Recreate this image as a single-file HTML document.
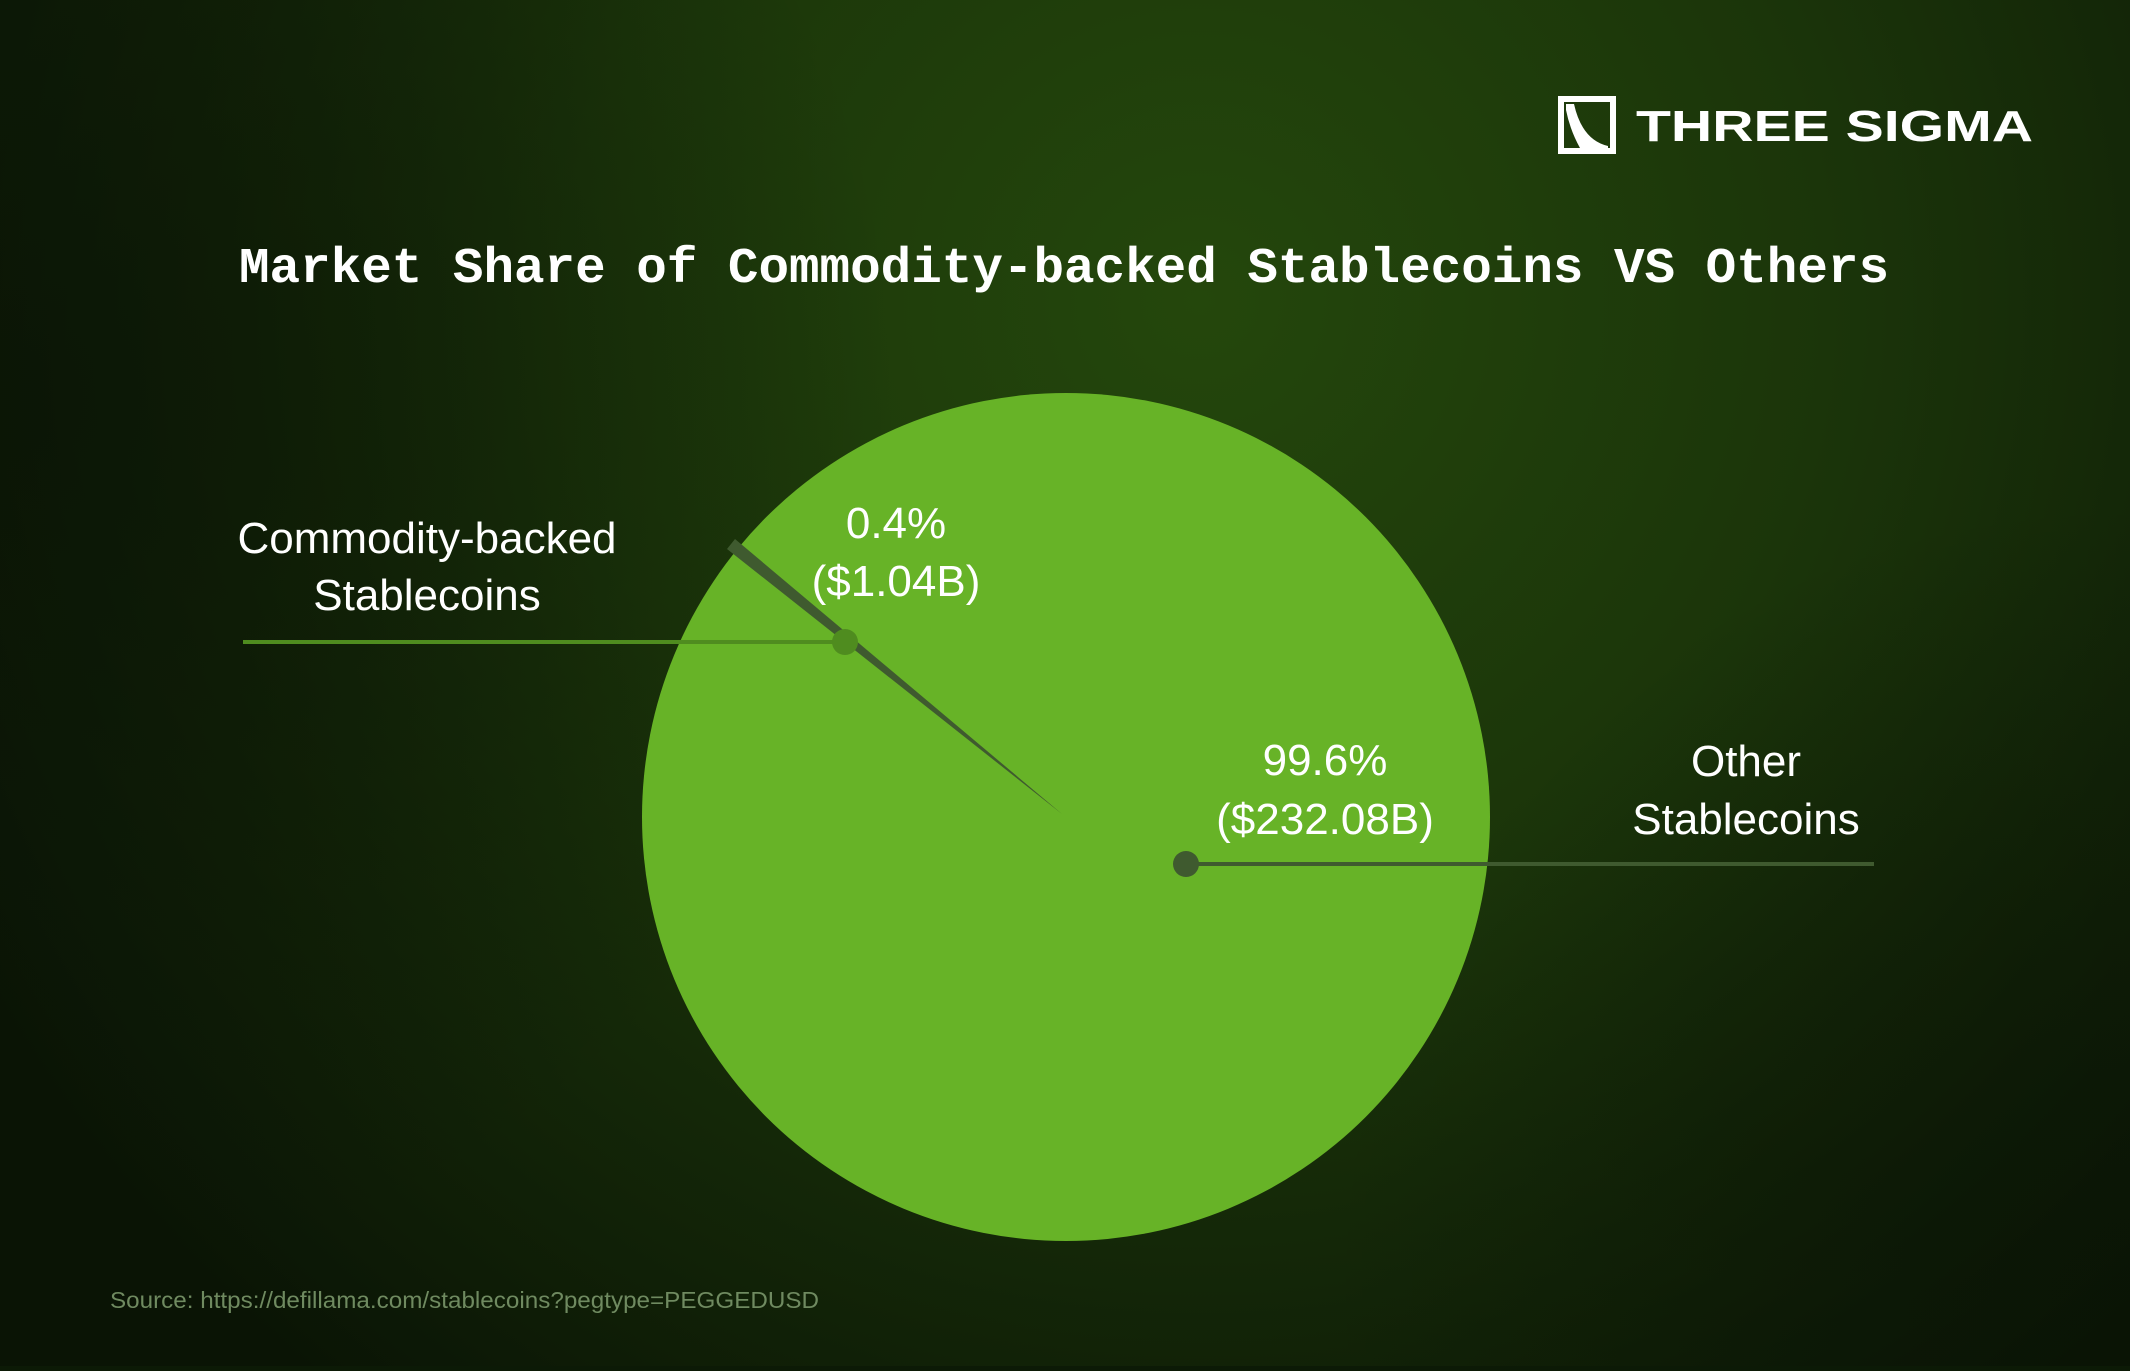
<!DOCTYPE html>
<html><head><meta charset="utf-8"><style>
html,body{margin:0;padding:0;}
body{width:2130px;height:1366px;overflow:hidden;background:#0c1a06;}
</style></head><body>
<svg width="2130" height="1366" viewBox="0 0 2130 1366" xmlns="http://www.w3.org/2000/svg">
<defs>
<radialGradient id="bg1" cx="1200" cy="300" r="1400" gradientUnits="userSpaceOnUse">
<stop offset="0" stop-color="#24470c"/><stop offset="0.45" stop-color="#1b350a"/><stop offset="1" stop-color="#0a1405"/>
</radialGradient>
<radialGradient id="bg2" cx="0" cy="400" r="900" gradientUnits="userSpaceOnUse">
<stop offset="0" stop-color="#0a1405" stop-opacity="0.8"/><stop offset="1" stop-color="#0a1405" stop-opacity="0"/>
</radialGradient>
<radialGradient id="bg3" cx="2130" cy="1300" r="800" gradientUnits="userSpaceOnUse">
<stop offset="0" stop-color="#0a1405" stop-opacity="0.7"/><stop offset="1" stop-color="#0a1405" stop-opacity="0"/>
</radialGradient>
</defs>
<rect width="2130" height="1366" fill="url(#bg1)"/>
<rect width="2130" height="1366" fill="url(#bg2)"/>
<rect width="2130" height="1366" fill="url(#bg3)"/>

<rect x="1561" y="99" width="52" height="52" fill="none" stroke="#fff" stroke-width="6"/>
<path d="M1566 104 L1574 104 Q1582 140 1608 146 L1608 148 L1580 148 Q1570 130 1566 110 Z" fill="#fff"/>
<text x="1636" y="141" font-family="Liberation Sans, sans-serif" font-weight="bold" font-size="44" fill="#fff" textLength="397" lengthAdjust="spacingAndGlyphs">THREE SIGMA</text>

<text x="239" y="282" font-family="Liberation Mono, monospace" font-weight="bold" font-size="50" fill="#fff" textLength="1650" lengthAdjust="spacingAndGlyphs">Market Share of Commodity-backed Stablecoins VS Others</text>

<circle cx="1066" cy="817" r="424" fill="#67b327"/>
<path d="M1062 814 L727 549 L735 539 Z" fill="#3f5a2f"/>

<line x1="243" y1="642" x2="845" y2="642" stroke="#4f8c1f" stroke-width="4"/>
<circle cx="845" cy="642" r="13" fill="#4f8c1f"/>
<line x1="1186" y1="864" x2="1874" y2="864" stroke="#3f5a2f" stroke-width="4"/>
<circle cx="1186" cy="864" r="13" fill="#3f5a2f"/>

<g font-family="Liberation Sans, sans-serif" font-size="44" fill="#fff" text-anchor="middle">
<text x="427" y="553">Commodity-backed</text>
<text x="427" y="610">Stablecoins</text>
<text x="896" y="538">0.4%</text>
<text x="896" y="596">($1.04B)</text>
<text x="1325" y="775">99.6%</text>
<text x="1325" y="834">($232.08B)</text>
<text x="1746" y="776">Other</text>
<text x="1746" y="834">Stablecoins</text>
</g>
<text x="110" y="1308" font-family="Liberation Sans, sans-serif" font-size="23" fill="#6f8a60" textLength="709" lengthAdjust="spacingAndGlyphs">Source: https://defillama.com/stablecoins?pegtype=PEGGEDUSD</text>
</svg>
</body></html>
